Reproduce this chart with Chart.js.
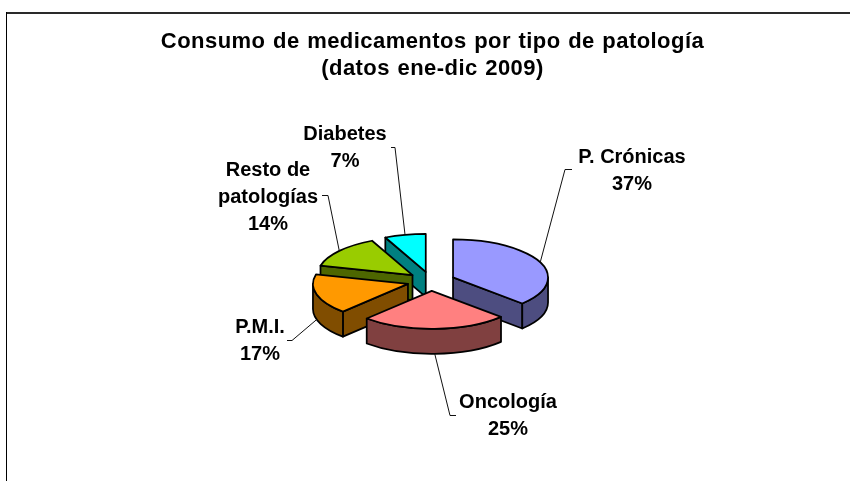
<!DOCTYPE html>
<html>
<head>
<meta charset="utf-8">
<style>html,body{margin:0;padding:0;background:#fff}canvas{display:block}</style>
<script src="https://cdn.jsdelivr.net/npm/chart.js@4"></script>
</head>
<body>
<canvas id="c" width="850" height="481"></canvas>
<script>
const titleLines = ['Consumo de medicamentos por tipo de patología', '(datos ene-dic 2009)'];
const categories = ['P. Crónicas', 'Oncología', 'P.M.I.', 'Resto de patologías', 'Diabetes'];
const categoryLines = [['P. Crónicas'], ['Oncología'], ['P.M.I.'], ['Resto de', 'patologías'], ['Diabetes']];
const percentages = [37, 25, 17, 14, 7];
const topColors = ['#9999FF', '#FF8080', '#FF9900', '#99CC00', '#00FFFF'];
const sideColors = ['#4D4D80', '#804040', '#804D00', '#4D6600', '#008080'];

// presentation of the tilted, exploded pie
const TILT = 0.40, DEPTH = 25, EXPLODE = 24, RADIUS = 95;
const SHIFT_X = -1.5, SHIFT_Y = -0.5;
const FONT = 'bold 20px "Liberation Sans", Arial, sans-serif';
const LINE_GAP = 27;
const labelCentres = [[632, 157], [508, 402], [260, 327], [268, 170], [345, 134]];
const leaderElbows = [[[572, 169], [565, 169]], [[456, 415], [450, 415]], [[287, 340], [292, 340]], [[322, 195], [328, 195]], [[391, 147], [395, 147]]];

const pie3d = {
  id: 'pie3d',
  beforeDraw(chart) {
    const ctx = chart.ctx;
    ctx.save();
    ctx.fillStyle = '#fff';
    ctx.fillRect(0, 0, chart.width, chart.height);
    ctx.fillStyle = '#2a2a2a';
    ctx.fillRect(6, 12, chart.width - 6, 2);
    ctx.fillStyle = '#000';
    ctx.fillRect(6, 12, 1, chart.height - 12);
    ctx.restore();
    // the reference title is set slightly wider than the font's natural metrics
    ctx.letterSpacing = '0.45px';
    ctx.wordSpacing = '1px';
  },
  beforeDatasetDraw() { return false; },
  afterDatasetsDraw(chart) {
    const ctx = chart.ctx;
    ctx.letterSpacing = '0px';
    ctx.wordSpacing = '0px';
    const arcs = chart.getDatasetMeta(0).data;
    const items = arcs.map((arc, i) => {
      const mid = (arc.startAngle + arc.endAngle) / 2;
      return { arc, i, mid,
        x: arc.x + SHIFT_X + EXPLODE * Math.cos(mid),
        y: arc.y + SHIFT_Y + EXPLODE * TILT * Math.sin(mid),
        r: arc.outerRadius };
    });
    const sorted = items.slice().sort((a, b) => a.y - b.y);
    ctx.save();
    ctx.lineJoin = 'round';
    ctx.strokeStyle = '#000';
    ctx.lineWidth = 1.75;
    const rim = (it, t) => [it.x + it.r * Math.cos(t), it.y + it.r * TILT * Math.sin(t)];
    for (const it of sorted) {
      const s = it.arc.startAngle, e = it.arc.endAngle;
      ctx.fillStyle = sideColors[it.i];
      const wall = t => {
        const p = rim(it, t);
        ctx.beginPath();
        ctx.moveTo(it.x, it.y);
        ctx.lineTo(p[0], p[1]);
        ctx.lineTo(p[0], p[1] + DEPTH);
        ctx.lineTo(it.x, it.y + DEPTH);
        ctx.closePath();
        ctx.fill();
        ctx.stroke();
      };
      if (Math.cos(s) < -1e-6) wall(s);
      if (Math.cos(e) > 1e-6) wall(e);
      const lo = Math.max(s, 0), hi = Math.min(e, Math.PI);
      if (hi > lo) {
        ctx.beginPath();
        ctx.ellipse(it.x, it.y, it.r, it.r * TILT, 0, lo, hi);
        ctx.ellipse(it.x, it.y + DEPTH, it.r, it.r * TILT, 0, hi, lo, true);
        ctx.closePath();
        ctx.fill();
        ctx.stroke();
      }
      // top face: the library's own arc element, flattened
      ctx.save();
      ctx.translate(it.x, it.y);
      ctx.scale(1, TILT);
      ctx.translate(-it.arc.x, -it.arc.y);
      it.arc.draw(ctx);
      ctx.restore();
      ctx.beginPath();
      ctx.moveTo(it.x, it.y);
      ctx.ellipse(it.x, it.y, it.r, it.r * TILT, 0, s, e);
      ctx.closePath();
      ctx.stroke();
    }
    // leaders and labels
    ctx.lineWidth = 1;
    ctx.strokeStyle = '#111';
    ctx.fillStyle = '#000';
    ctx.font = FONT;
    ctx.textAlign = 'center';
    ctx.textBaseline = 'middle';
    for (const it of items) {
      const p = rim(it, it.mid);
      const front = Math.sin(it.mid) > 0;
      const elbow = leaderElbows[it.i];
      ctx.beginPath();
      ctx.moveTo(elbow[0][0], elbow[0][1] + 0.5);
      ctx.lineTo(elbow[1][0], elbow[1][1] + 0.5);
      ctx.lineTo(p[0], p[1] + (front ? DEPTH : 0));
      ctx.stroke();
      const c = labelCentres[it.i];
      const lines = categoryLines[it.i].concat([percentages[it.i] + '%']);
      lines.forEach((t, k) => ctx.fillText(t, c[0], c[1] + k * LINE_GAP));
    }
    ctx.restore();
  }
};

new Chart(document.getElementById('c'), {
  type: 'pie',
  data: {
    labels: categories,
    datasets: [{ data: percentages, backgroundColor: topColors, borderWidth: 0 }]
  },
  options: {
    responsive: false,
    animation: false,
    events: [],
    radius: RADIUS,
    layout: { padding: { left: 15, right: 0, top: 0, bottom: 0 } },
    plugins: {
      legend: { display: false },
      tooltip: { enabled: false },
      title: {
        display: true,
        text: titleLines,
        color: '#000',
        font: { family: '"Liberation Sans", Arial, sans-serif', size: 22, weight: 'bold', lineHeight: 1.2273 },
        padding: { top: 28.5, bottom: 0 }
      }
    }
  },
  plugins: [pie3d]
});
</script>
</body>
</html>
